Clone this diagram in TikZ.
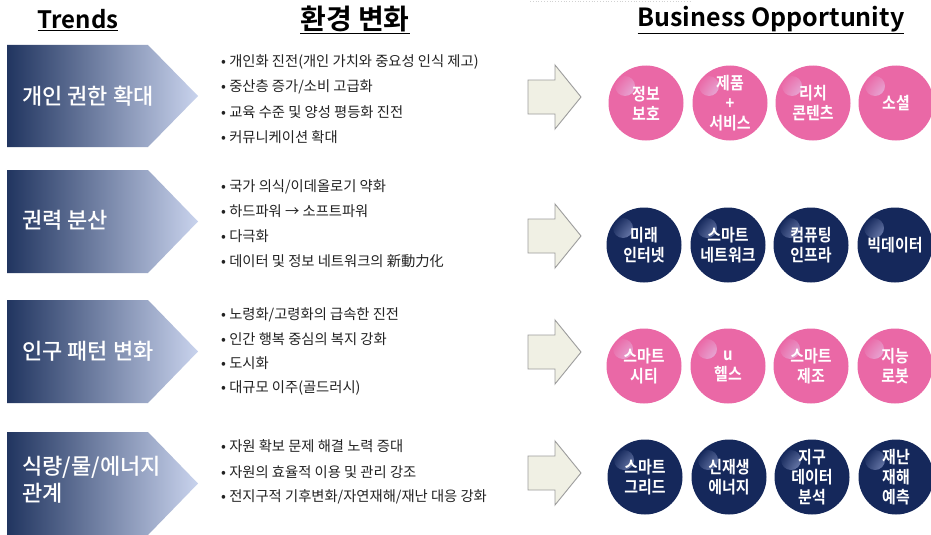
\documentclass[tikz,border=0pt]{standalone}
\usepackage{fontspec}
\setmainfont{Noto Sans CJK KR}
\newfontfamily\kr{Noto Sans CJK KR}
\newfontfamily\krb{Noto Sans CJK KR Bold}
\newfontfamily\krm{Noto Sans CJK KR Medium}
\newfontfamily\circfont{Noto Sans CJK KR Bold}[FakeStretch=0.88]
\definecolor{chevL}{HTML}{213560}
\definecolor{chevR}{HTML}{C9D3ED}
\definecolor{pinkc}{HTML}{EA68A6}
\definecolor{navyc}{HTML}{15285B}
\definecolor{pinkhl}{HTML}{E4D6F7}
\definecolor{navyhl}{HTML}{A8B6E4}
\definecolor{arrfill}{HTML}{F0F0E4}
\definecolor{arrdraw}{HTML}{9C9C9C}
\definecolor{txt}{HTML}{222222}
\tikzset{
  head/.style={font=\krb\fontsize{24}{28}\selectfont, text=black, inner sep=0pt},
  headkr/.style={font=\krb\fontsize{28}{32}\selectfont, text=black, inner sep=0pt},
  chevtxt/.style={font=\krm\fontsize{22}{27}\selectfont, text=white, anchor=west, align=left, inner sep=0pt},
  bullet/.style={font=\kr\fontsize{14.3}{16}\selectfont, text=txt, anchor=west, inner sep=0pt},
  arrowst/.style={fill=arrfill, draw=arrdraw, line width=0.9pt, line join=miter},
  pinkball/.style={circle, minimum size=75pt, inner sep=0pt, fill=pinkc, text=white,
    font=\circfont\fontsize{17}{20}\selectfont, align=center,
    path picture={\shade[inner color=pinkhl, outer color=pinkc] ([shift={(-21pt,17pt)}]path picture bounding box.center) circle (10pt);}},
  navyball/.style={circle, minimum size=75pt, inner sep=0pt, fill=navyc, text=white,
    font=\circfont\fontsize{17}{20}\selectfont, align=center,
    path picture={\shade[inner color=navyhl, outer color=navyc] ([shift={(-21pt,17pt)}]path picture bounding box.center) circle (10pt);}}
}
\newcommand{\chevshape}[2]{%
  \shade[left color=chevL, right color=chevR] (7,#1) -- (148,#1) -- (198,{(#1+#2)/2}) -- (148,#2) -- (7,#2) -- cycle;}
\newcommand{\blockarrow}[1]{%
  \draw[arrowst] (528,{#1-17}) -- (555,{#1-17}) -- (555,{#1-32}) -- (581,#1) -- (555,{#1+32}) -- (555,{#1+17}) -- (528,{#1+17}) -- cycle;}
\begin{document}
\begin{tikzpicture}[x=1pt,y=-1pt]
\useasboundingbox (0,0) rectangle (931,535);
\fill[white] (0,0) rectangle (931,535);
\draw[gray!35, dotted, line width=0.8pt] (530,1) -- (690,1);

% headings
\node[head] (hT) at (78,20) {\underline{Trends}};
\node[headkr] (hE) at (355,20) {\underline{환경 변화}};
\node[head, font=\krb\fontsize{25}{28}\selectfont] (hB) at (771,20) {\underline{Business Opportunity}};

% chevrons
\chevshape{45}{147}
\chevshape{170}{273}
\chevshape{300}{403}
\chevshape{432}{535}
\node[chevtxt] (t1) at (22,96) {개인 권한 확대};
\node[chevtxt] (t2) at (22,220) {권력 분산};
\node[chevtxt] (t3) at (22,351) {인구 패턴 변화};
\node[chevtxt] (t4) at (22,480) {식량/물/에너지\\관계};

% bullets
\node[bullet] (b11) at (221,62) {• 개인화 진전(개인 가치와 중요성 인식 제고)};
\node[bullet] (b12) at (221,87) {• 중산층 증가/소비 고급화};
\node[bullet] (b13) at (221,112) {• 교육 수준 및 양성 평등화 진전};
\node[bullet] (b14) at (221,137) {• 커뮤니케이션 확대};
\node[bullet] (b21) at (221,187) {• 국가 의식/이데올로기 약화};
\node[bullet] (b22) at (221,211) {• 하드파워 → 소프트파워};
\node[bullet] (b23) at (221,236) {• 다극화};
\node[bullet] (b24) at (221,261) {• 데이터 및 정보 네트워크의 新動力化};
\node[bullet] (b31) at (221,315) {• 노령화/고령화의 급속한 진전};
\node[bullet] (b32) at (221,339) {• 인간 행복 중심의 복지 강화};
\node[bullet] (b33) at (221,363) {• 도시화};
\node[bullet] (b34) at (221,388) {• 대규모 이주(골드러시)};
\node[bullet] (b41) at (221,446) {• 자원 확보 문제 해결 노력 증대};
\node[bullet] (b42) at (221,472) {• 자원의 효율적 이용 및 관리 강조};
\node[bullet] (b43) at (221,497) {• 전지구적 기후변화/자연재해/재난 대응 강화};

% block arrows
\blockarrow{97}
\blockarrow{236}
\blockarrow{352}
\blockarrow{473}

% balls
\node[pinkball] (c11) at (646,103) {정보\\보호};
\node[pinkball] (c12) at (730,103) {제품\\+\\서비스};
\node[pinkball] (c13) at (813,103) {리치\\콘텐츠};
\node[pinkball] (c14) at (896,103) {소셜};
\node[navyball] (c21) at (644,245) {미래\\인터넷};
\node[navyball] (c22) at (728,245) {스마트\\네트워크};
\node[navyball] (c23) at (811,245) {컴퓨팅\\인프라};
\node[navyball] (c24) at (895,245) {빅데이터};
\node[pinkball] (c31) at (644,366) {스마트\\시티};
\node[pinkball] (c32) at (728,366) {u\\헬스};
\node[pinkball] (c33) at (811,366) {스마트\\제조};
\node[pinkball] (c34) at (895,366) {지능\\로봇};
\node[navyball] (c41) at (645,477) {스마트\\그리드};
\node[navyball] (c42) at (729,477) {신재생\\에너지};
\node[navyball] (c43) at (812,477) {지구\\데이터\\분석};
\node[navyball] (c44) at (896,477) {재난\\재해\\예측};
\end{tikzpicture}
\end{document}
